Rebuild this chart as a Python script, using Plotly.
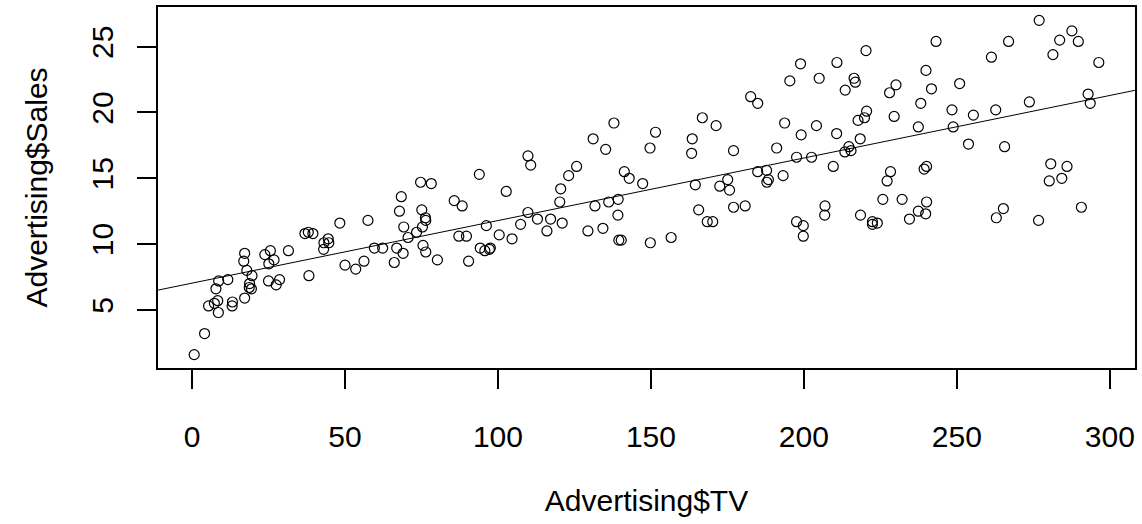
import numpy as np
import plotly.graph_objects as go

tv = [230.1, 44.5, 17.2, 151.5, 180.8, 8.7, 57.5, 120.2, 8.6, 199.8,
      66.1, 214.7, 23.8, 97.5, 204.1, 195.4, 67.8, 281.4, 69.2, 147.3,
      218.4, 237.4, 13.2, 228.3, 62.3, 262.9, 142.9, 240.1, 248.8, 70.6,
      292.9, 112.9, 97.2, 265.6, 95.7, 290.7, 266.9, 74.7, 43.1, 228.0,
      202.5, 177.0, 293.6, 206.9, 25.1, 175.1, 89.7, 239.9, 227.2, 66.9,
      199.8, 100.4, 216.4, 182.6, 262.7, 198.9, 7.3, 136.2, 210.8, 210.7,
      53.5, 261.3, 239.3, 102.7, 131.1, 69.0, 31.5, 139.3, 237.4, 216.8,
      199.1, 109.8, 26.8, 129.4, 213.4, 16.9, 27.5, 120.5, 5.4, 116.0,
      76.4, 239.8, 75.3, 68.4, 213.5, 193.2, 76.3, 110.7, 88.3, 109.8,
      134.3, 28.6, 217.7, 250.9, 107.4, 163.3, 197.6, 184.9, 289.7, 135.2,
      222.4, 296.4, 280.2, 187.9, 238.2, 137.9, 25.0, 90.4, 13.1, 255.4,
      225.8, 241.7, 175.7, 209.6, 78.2, 75.1, 139.2, 76.4, 125.7, 19.4,
      141.3, 18.8, 224.0, 123.1, 229.5, 87.2, 7.8, 80.2, 220.3, 59.6,
      0.7, 265.2, 8.4, 219.8, 36.9, 48.3, 25.6, 273.7, 43.0, 184.9,
      73.4, 193.7, 220.5, 104.6, 96.2, 140.3, 240.1, 243.2, 38.0, 44.7,
      280.7, 121.0, 197.6, 171.3, 187.8, 4.1, 93.9, 149.8, 11.7, 131.7,
      172.5, 85.7, 188.4, 163.5, 117.2, 234.5, 17.9, 206.8, 215.4, 284.3,
      50.0, 164.5, 19.6, 168.4, 222.4, 276.9, 248.4, 170.2, 276.7, 165.6,
      156.6, 218.5, 56.2, 287.6, 253.8, 205.0, 139.5, 191.1, 286.0, 18.7,
      39.5, 75.5, 17.2, 166.8, 149.7, 38.2, 94.2, 177.0, 283.6, 232.1]

sales = [22.1, 10.4, 9.3, 18.5, 12.9, 7.2, 11.8, 13.2, 4.8, 10.6,
         8.6, 17.4, 9.2, 9.7, 19.0, 22.4, 12.5, 24.4, 11.3, 14.6,
         18.0, 12.5, 5.6, 15.5, 9.7, 12.0, 15.0, 15.9, 18.9, 10.5,
         21.4, 11.9, 9.6, 17.4, 9.5, 12.8, 25.4, 14.7, 10.1, 21.5,
         16.6, 17.1, 20.7, 12.9, 8.5, 14.9, 10.6, 23.2, 14.8, 9.7,
         11.4, 10.7, 22.6, 21.2, 20.2, 23.7, 5.5, 13.2, 23.8, 18.4,
         8.1, 24.2, 15.7, 14.0, 18.0, 9.3, 9.5, 13.4, 18.9, 22.3,
         18.3, 12.4, 8.8, 11.0, 17.0, 8.7, 6.9, 14.2, 5.3, 11.0,
         11.8, 12.3, 11.3, 13.6, 21.7, 15.2, 12.0, 16.0, 12.9, 16.7,
         11.2, 7.3, 19.4, 22.2, 11.5, 16.9, 11.7, 15.5, 25.4, 17.2,
         11.7, 23.8, 14.8, 14.7, 20.7, 19.2, 7.2, 8.7, 5.3, 19.8,
         13.4, 21.8, 14.1, 15.9, 14.6, 12.6, 12.2, 9.4, 15.9, 6.6,
         15.5, 7.0, 11.6, 15.2, 19.7, 10.6, 6.6, 8.8, 24.7, 9.7,
         1.6, 12.7, 5.7, 19.6, 10.8, 11.6, 9.5, 20.8, 9.6, 20.7,
         10.9, 19.2, 20.1, 10.4, 11.4, 10.3, 13.2, 25.4, 10.9, 10.1,
         16.1, 11.6, 16.6, 19.0, 15.6, 3.2, 15.3, 10.1, 7.3, 12.9,
         14.4, 13.3, 14.9, 18.0, 11.9, 11.9, 8.0, 12.2, 17.1, 15.0,
         8.4, 14.5, 7.6, 11.7, 11.5, 27.0, 20.2, 11.7, 11.8, 12.6,
         10.5, 12.2, 8.7, 26.2, 17.6, 22.6, 10.3, 17.3, 15.9, 6.7,
         10.8, 9.9, 5.9, 19.6, 17.3, 7.6, 9.7, 12.8, 25.5, 13.4]

x_ticks = [0, 50, 100, 150, 200, 250, 300]
y_ticks = [5, 10, 15, 20, 25]

x_arr = np.array(tv)
y_arr = np.array(sales)

# R-style axis limits (range extended by 4%)
def r_lim(a):
    lo, hi = float(a.min()), float(a.max())
    d = (hi - lo) * 0.04
    return [lo - d, hi + d]

xlim = r_lim(x_arr)
ylim = r_lim(y_arr)

# least-squares fit line (abline(lm(Sales ~ TV)))
slope, intercept = np.polyfit(x_arr, y_arr, 1)
line_x = np.array(xlim)
line_y = intercept + slope * line_x

FONT = "Liberation Sans, Arial, sans-serif"
FS = 30

fig = go.Figure()
fig.add_trace(go.Scatter(
    x=tv, y=sales, mode="markers",
    marker=dict(symbol="circle-open", size=10, color="black",
                line=dict(color="black", width=1.2)),
    showlegend=False, hoverinfo="x+y",
))
fig.add_trace(go.Scatter(
    x=line_x, y=line_y, mode="lines",
    line=dict(color="black", width=1),
    showlegend=False, hoverinfo="skip",
))

axis_common = dict(
    showgrid=False, zeroline=False,
    showline=True, linecolor="black", linewidth=1.5, mirror=True,
    ticks="outside", ticklen=19, tickwidth=1.5, tickcolor="black",
    tickfont=dict(family=FONT, size=FS, color="black"),
)

fig.update_layout(
    width=1142, height=524,
    margin=dict(l=158, r=5, t=6, b=156),
    paper_bgcolor="white", plot_bgcolor="white",
    font=dict(family=FONT, color="black"),
    xaxis=dict(
        range=xlim, tickvals=x_ticks, ticktext=[str(v) for v in x_ticks],
        ticklabelstandoff=22,
        title=dict(text="Advertising$TV", font=dict(family=FONT, size=FS, color="black"),
                   standoff=38),
        **axis_common,
    ),
    yaxis=dict(
        range=ylim, tickvals=y_ticks, ticktext=[str(v) for v in y_ticks],
        tickangle=-90, ticklabelstandoff=12,
        title=dict(text="Advertising$Sales", font=dict(family=FONT, size=FS, color="black"),
                   standoff=30),
        **axis_common,
    ),
)

fig.write_html("out.html", config={"displayModeBar": False},
               post_script="document.body.style.margin='0px';")
